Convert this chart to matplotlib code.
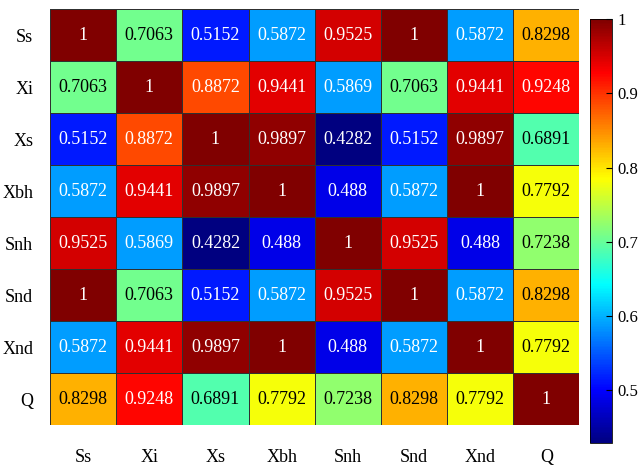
import numpy as np
import matplotlib
matplotlib.use("Agg")
import matplotlib.pyplot as plt
from matplotlib.colors import LinearSegmentedColormap

labels = ["Ss", "Xi", "Xs", "Xbh", "Snh", "Snd", "Xnd", "Q"]
row_ss = [1, 0.7063, 0.5152, 0.5872, 0.9525, 1, 0.5872, 0.8298]
row_xi = [0.7063, 1, 0.8872, 0.9441, 0.5869, 0.7063, 0.9441, 0.9248]
row_xs = [0.5152, 0.8872, 1, 0.9897, 0.4282, 0.5152, 0.9897, 0.6891]
row_xbh = [0.5872, 0.9441, 0.9897, 1, 0.488, 0.5872, 1, 0.7792]
row_snh = [0.9525, 0.5869, 0.4282, 0.488, 1, 0.9525, 0.488, 0.7238]
row_snd = [1, 0.7063, 0.5152, 0.5872, 0.9525, 1, 0.5872, 0.8298]
row_xnd = [0.5872, 0.9441, 0.9897, 1, 0.488, 0.5872, 1, 0.7792]
row_q = [0.8298, 0.9248, 0.6891, 0.7792, 0.7238, 0.8298, 0.7792, 1]

data = np.array([row_ss, row_xi, row_xs, row_xbh, row_snh, row_snd, row_xnd, row_q])

# MATLAB-style jet
cdict = {
    'red': [(0, 0, 0), (0.375, 0, 0), (0.625, 1, 1), (0.875, 1, 1), (1, 0.5, 0.5)],
    'green': [(0, 0, 0), (0.125, 0, 0), (0.375, 1, 1), (0.625, 1, 1), (0.875, 0, 0), (1, 0, 0)],
    'blue': [(0, 0.5, 0.5), (0.125, 1, 1), (0.375, 1, 1), (0.625, 0, 0), (1, 0, 0)],
}
mjet = LinearSegmentedColormap('mjet', cdict, N=256)

plt.rcParams['font.family'] = ['Liberation Serif', 'DejaVu Serif']
fig = plt.figure(figsize=(6.41, 4.70), dpi=100)
ax = fig.add_axes([0.078, 0.095, 0.826, 0.885])
cax = fig.add_axes([0.921, 0.057, 0.034, 0.902])

vmin, vmax = data.min(), data.max()
im = ax.pcolormesh(data, cmap=mjet, vmin=vmin, vmax=vmax, edgecolors='#303030', linewidth=0.6)
ax.set_xlim(0, 8)
ax.set_ylim(8, 0)
ax.set_xticks(np.arange(8) + 0.5)
ax.set_yticks(np.arange(8) + 0.5)
ax.set_xticklabels(labels, fontsize=13)
ax.set_yticklabels(labels, fontsize=13)
ax.tick_params(axis='x', length=0, pad=17)
ax.tick_params(axis='y', length=0, pad=12)
for s in ax.spines.values():
    s.set_visible(False)

for i in range(8):
    for j in range(8):
        v = data[i, j]
        color = 'black' if 0.65 < v < 0.86 else 'white'
        ax.text(j + 0.5, i + 0.5, f"{v:.4g}", ha='center', va='center', fontsize=13, color=color)

cb = fig.colorbar(im, cax=cax)
cb.set_ticks([0.5, 0.6, 0.7, 0.8, 0.9, 1.0])
cb.set_ticklabels(["0.5", "0.6", "0.7", "0.8", "0.9", "1"])
cb.ax.tick_params(labelsize=12, direction='in', length=4)
cb.outline.set_linewidth(0.6)

fig.savefig("out.png", dpi=100)
